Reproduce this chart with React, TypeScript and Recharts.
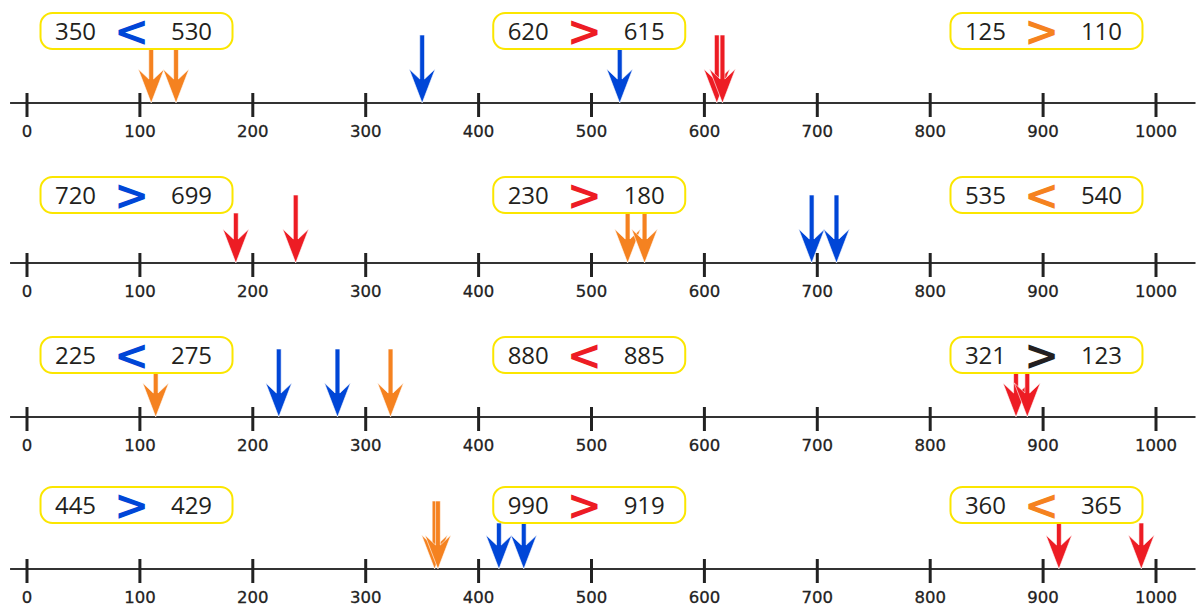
import { ReferenceDot, ReferenceLine, Scatter, ScatterChart, XAxis, YAxis } from "recharts";

// number line ticks, 0..1000
const TICKS = [0, 100, 200, 300, 400, 500, 600, 700, 800, 900, 1000];
// where the three comparison boxes sit on each line (axis units)
const BOX_AT = [97, 498, 903];

// comparison boxes: [left, sign, right], and the colour of each sign
const ROW1_BOXES = [["350", "<", "530"], ["620", ">", "615"], ["125", ">", "110"]];
const ROW1_SIGNS = ["blue", "red", "orange"];
const ROW2_BOXES = [["720", ">", "699"], ["230", ">", "180"], ["535", "<", "540"]];
const ROW2_SIGNS = ["blue", "red", "orange"];
const ROW3_BOXES = [["225", "<", "275"], ["880", "<", "885"], ["321", ">", "123"]];
const ROW3_SIGNS = ["blue", "red", "black"];
const ROW4_BOXES = [["445", ">", "429"], ["990", ">", "919"], ["360", "<", "365"]];
const ROW4_SIGNS = ["blue", "red", "orange"];

// where the arrows point
const ROW1_ORANGE = [110, 132];
const ROW1_BLUE = [350, 525];
const ROW1_RED = [611, 616];
const ROW2_RED = [185, 238];
const ROW2_ORANGE = [532, 547];
const ROW2_BLUE = [695, 717];
const ROW3_ORANGE = [114, 322];
const ROW3_BLUE = [223, 275];
const ROW3_RED = [876, 886];
const ROW4_ORANGE = [361, 364];
const ROW4_BLUE = [418, 440];
const ROW4_RED = [914, 987];

const COLORS: Record<string, string> = {
  blue: "#0046d7",
  red: "#ed1c24",
  orange: "#f58220",
  black: "#231f20",
};

const W = 1197;
const H = 150;
const AXIS_IN_CHART = 100; // y of the number line inside each chart
const BOX_HALF_H = 18;

const ROWS = [
  { axisY: 102.7, lift: 72, boxes: ROW1_BOXES, signs: ROW1_SIGNS, series: { orange: ROW1_ORANGE, blue: ROW1_BLUE, red: ROW1_RED } },
  { axisY: 262.7, lift: 68, boxes: ROW2_BOXES, signs: ROW2_SIGNS, series: { red: ROW2_RED, orange: ROW2_ORANGE, blue: ROW2_BLUE } },
  { axisY: 416.7, lift: 62, boxes: ROW3_BOXES, signs: ROW3_SIGNS, series: { orange: ROW3_ORANGE, blue: ROW3_BLUE, red: ROW3_RED } },
  { axisY: 569, lift: 64, boxes: ROW4_BOXES, signs: ROW4_SIGNS, series: { orange: ROW4_ORANGE, blue: ROW4_BLUE, red: ROW4_RED } },
];

function Tick(props: any) {
  const { x, y, payload } = props;
  return (
    <g>
      <line x1={x} x2={x} y1={y - 10} y2={y + 14} stroke="#222" strokeWidth={3} />
      <text
        x={x}
        y={y + 34}
        textAnchor="middle"
        fontFamily="DejaVu Sans"
        fontSize={16.5}
        fill="#222"
        stroke="#222"
        strokeWidth={0.3}
      >
        {payload.value}
      </text>
    </g>
  );
}

function Arrow(props: any) {
  const { cx, cy, fill, payload, lift } = props;
  if (cx == null || cy == null) return null;
  // arrows that sit under a box start at its bottom edge
  const underBox = BOX_AT.some((b) => Math.abs(payload.x - b) < 92);
  const top = underBox ? cy - (lift - BOX_HALF_H) : cy - 68;
  const hw = 13;
  const headH = 34;
  const notch = 24;
  const sw = 2.4;
  const d = `M${cx},${cy} L${cx - hw},${cy - headH} L${cx - sw},${cy - notch} L${cx - sw},${top} L${cx + sw},${top} L${cx + sw},${cy - notch} L${cx + hw},${cy - headH} Z`;
  return <path d={d} fill={fill} stroke="#fff" strokeWidth={0.6} />;
}

function Box(props: any) {
  const { cx, cy, box, sign } = props;
  if (cx == null || cy == null) return null;
  const num = { fontFamily: "Open Sans", fontSize: 24, fill: "#231f20", textAnchor: "middle" as const };
  return (
    <g>
      <rect x={cx - 96} y={cy - 18} width={192} height={36} rx={12} fill="#fff" stroke="#fbe600" strokeWidth={2} />
      <text x={cx - 61} y={cy + 8.5} {...num}>{box[0]}</text>
      <text
        x={cx - 5}
        y={cy + 14.5}
        textAnchor="middle"
        fontFamily="DejaVu Sans"
        fontWeight="bold"
        fontSize={42}
        fill={COLORS[sign]}
      >
        {box[1]}
      </text>
      <text x={cx + 55} y={cy + 8.5} {...num}>{box[2]}</text>
    </g>
  );
}

function NumberLine({ row }: { row: (typeof ROWS)[number] }) {
  return (
    <div style={{ position: "absolute", left: 0, top: row.axisY - AXIS_IN_CHART }}>
      <ScatterChart width={W} height={H} margin={{ top: 10, right: 41, bottom: 0, left: 27 }}>
        <XAxis
          type="number"
          dataKey="x"
          domain={[0, 1000]}
          ticks={TICKS}
          interval={0}
          allowDataOverflow
          axisLine={false}
          tickLine={false}
          tickSize={0}
          tickMargin={0}
          height={50}
          tick={<Tick />}
        />
        <YAxis type="number" dataKey="y" domain={[0, 90]} hide allowDataOverflow />
        <ReferenceLine
          segment={[{ x: -15, y: 0 }, { x: 1035, y: 0 }]}
          stroke="#333"
          strokeWidth={2}
          ifOverflow="visible"
        />
        {Object.entries(row.series).map(([color, values]) => (
          <Scatter
            key={color}
            data={values.map((v) => ({ x: v, y: 0 }))}
            fill={COLORS[color]}
            isAnimationActive={false}
            shape={(p: any) => <Arrow {...p} fill={COLORS[color]} lift={row.lift} />}
          />
        ))}
        {row.boxes.map((box, i) => (
          <ReferenceDot
            key={i}
            x={BOX_AT[i]}
            y={row.lift}
            ifOverflow="visible"
            shape={(p: any) => <Box {...p} box={box} sign={row.signs[i]} />}
          />
        ))}
      </ScatterChart>
    </div>
  );
}

export default function App() {
  return (
    <div
      style={{
        position: "absolute",
        left: 0,
        top: 0,
        width: W,
        height: 609,
        overflow: "hidden",
        background: "#fff",
      }}
    >
      {ROWS.map((row, i) => (
        <NumberLine key={i} row={row} />
      ))}
    </div>
  );
}
